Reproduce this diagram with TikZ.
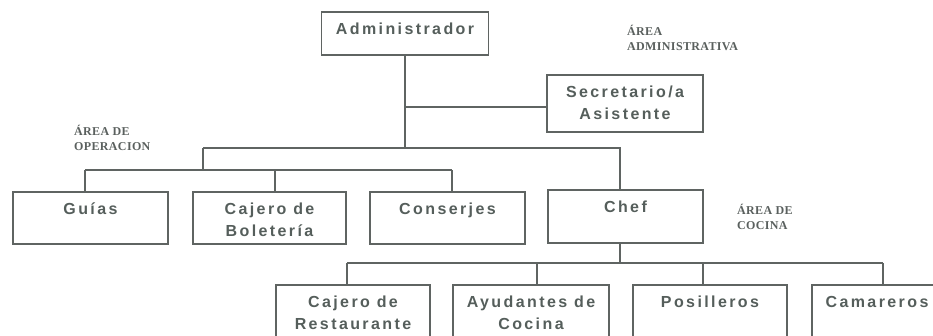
\documentclass[tikz,border=0pt]{standalone}
\usepackage{fontspec}
\newfontfamily\orgboxfont[LetterSpace=15]{Liberation Sans Bold}
\newfontfamily\orgareafont[LetterSpace=3]{Liberation Serif Bold}
\definecolor{linec}{RGB}{95,100,98}
\definecolor{textc}{RGB}{85,94,91}
\definecolor{areac}{RGB}{90,96,94}
\newcommand\orgtext[3]{\parbox[c][#2pt][t]{#1pt}{\centering\rule{0pt}{22.5pt}#3}}
\newcommand\orgarea[1]{\parbox[t]{140pt}{\raggedright #1}}
\begin{document}
\begin{tikzpicture}[x=1pt,y=-1pt,
  orgbox/.style={draw=linec, line width=1.1pt, inner sep=0pt, text=textc,
    font=\orgboxfont\fontsize{16}{21.5}\selectfont},
  conn/.style={draw=linec, line width=1.1pt},
  area/.style={inner sep=0pt, text=areac, anchor=base west,
    font=\orgareafont\fontsize{12}{15}\selectfont}]
\useasboundingbox (0,0) rectangle (933,335);
\clip (0,0) rectangle (933,335);
% boxes
\node[orgbox] (admin) at (405,33.5) {\orgtext{167}{43}{Administrador}};
\node[orgbox] (sec) at (625,103.5) {\orgtext{156}{57}{Secretario/a\\Asistente}};
\node[orgbox] (guias) at (90.5,218) {\orgtext{155}{52}{Guías}};
\node[orgbox] (bolet) at (269.5,218) {\orgtext{153}{52}{Cajero de\\Boletería}};
\node[orgbox] (consj) at (447.5,218) {\orgtext{155}{52}{Conserjes}};
\node[orgbox] (chef) at (625.5,216.5) {\orgtext{155}{53}{Chef}};
\node[orgbox] (rest) at (353,311) {\orgtext{154}{52}{Cajero de\\Restaurante}};
\node[orgbox] (ayud) at (531,311) {\orgtext{156}{52}{Ayudantes de\\Cocina}};
\node[orgbox] (posi) at (710,311) {\orgtext{154}{52}{Posilleros}};
\node[orgbox] (cama) at (877,311) {\orgtext{130}{52}{Camareros}};
% area labels
\node[area] (aadm) at (627,35) {\orgarea{ÁREA\\ADMINISTRATIVA}};
\node[area] (aope) at (74,135) {\orgarea{ÁREA DE\\OPERACION}};
\node[area] (acoc) at (737,214) {\orgarea{ÁREA DE\\COCINA}};
% junctions
\coordinate (a1) at (405,107);
\coordinate (a2) at (405,148);
\coordinate (o1) at (203,148);
\coordinate (o2) at (203,170);
\coordinate (c1) at (620,148);
\coordinate (b1) at (85,170);
\coordinate (b2) at (452,170);
\coordinate (k1) at (347,263);
\coordinate (k2) at (883,263);
% connectors
\draw[conn] (admin.south) -- (a2);
\draw[conn] (a1) -- (sec.west |- a1);
\draw[conn] (o1) -- (c1) -- ([xshift=-5.5pt]chef.north);
\draw[conn] (o1) -- (o2);
\draw[conn] (b1) -- (b2);
\draw[conn] ([xshift=-5.5pt]guias.north) |- (b1);
\draw[conn] ([xshift=5.5pt]bolet.north) |- (b1);
\draw[conn] ([xshift=4.5pt]consj.north) |- (b2);
\draw[conn] ([xshift=-5.5pt]chef.south) |- (k1);
\draw[conn] (k1) -- (k2);
\draw[conn] ([xshift=-6pt]rest.north) |- (k1);
\draw[conn] ([xshift=6pt]ayud.north) |- (k1);
\draw[conn] ([xshift=-7pt]posi.north) |- (k2);
\draw[conn] ([xshift=6pt]cama.north) |- (k2);
\end{tikzpicture}
\end{document}
